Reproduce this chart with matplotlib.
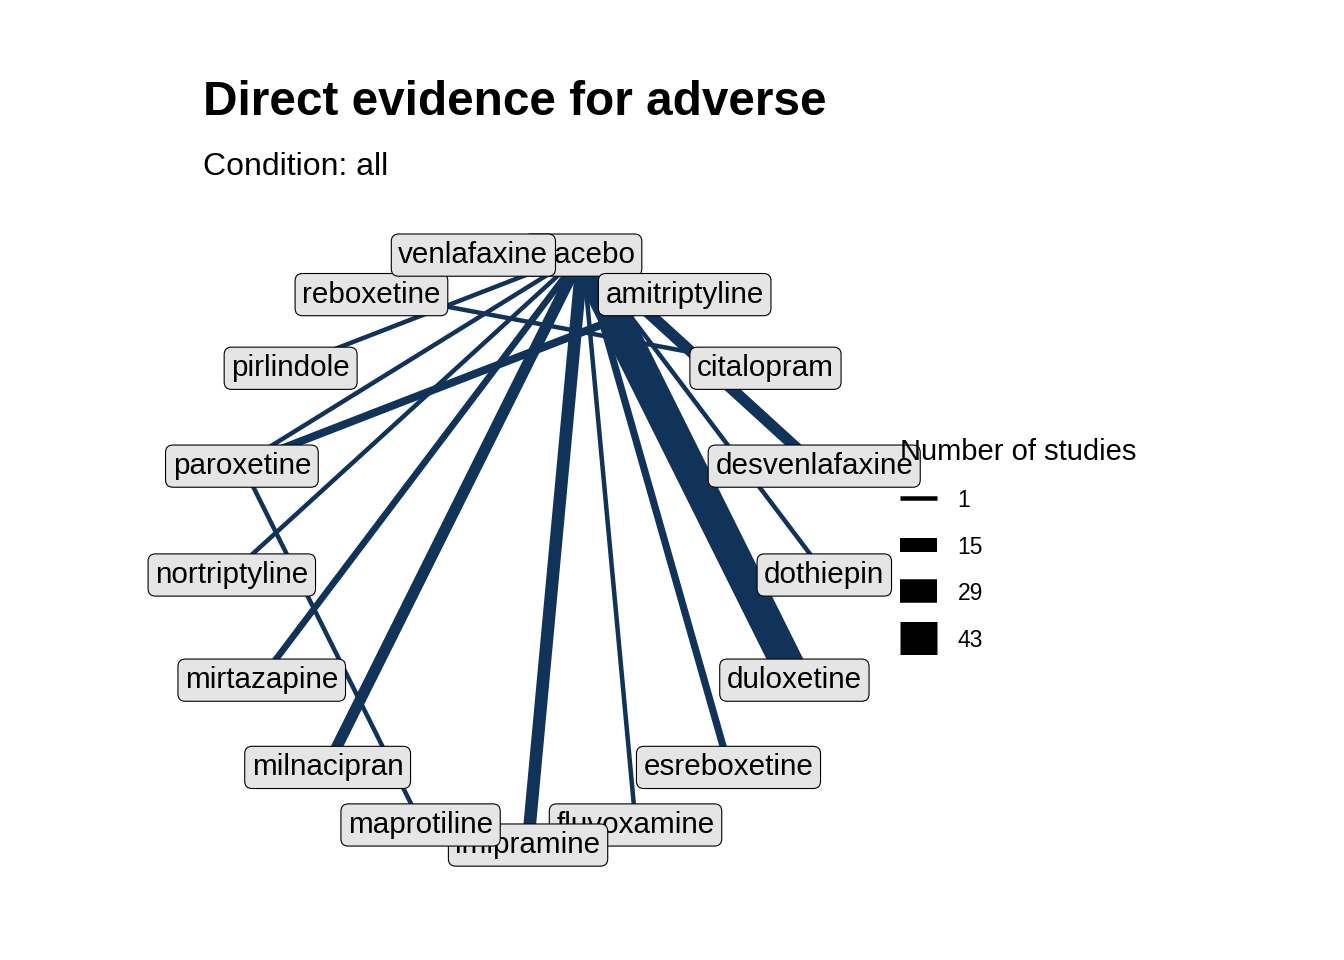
import numpy as np
import matplotlib
matplotlib.use("Agg")
import matplotlib.pyplot as plt
import matplotlib.transforms as mtransforms
from matplotlib.lines import Line2D

plt.rcParams["font.family"] = ["Liberation Sans", "DejaVu Sans"]

# ── Data ────────────────────────────────────────────────────────────────────
treatments = ["placebo", "amitriptyline", "citalopram", "desvenlafaxine",
              "dothiepin", "duloxetine", "esreboxetine", "fluvoxamine",
              "imipramine", "maprotiline", "milnacipran", "mirtazapine",
              "nortriptyline", "paroxetine", "pirlindole", "reboxetine",
              "venlafaxine"]

edge_from = ["placebo", "placebo", "placebo", "placebo", "placebo", "placebo",
             "placebo", "placebo", "placebo", "placebo", "placebo",
             "paroxetine", "paroxetine", "reboxetine"]
edge_to = ["duloxetine", "imipramine", "milnacipran", "desvenlafaxine",
           "esreboxetine", "mirtazapine", "nortriptyline", "paroxetine",
           "pirlindole", "fluvoxamine", "dothiepin",
           "amitriptyline", "maprotiline", "citalopram"]
n_studies = [43, 13, 11, 11, 5, 4, 1, 1, 1, 1, 1, 6, 1, 1]

legend_breaks = [1, 15, 29, 43]

EDGE_COLOR = "#11335a"
LABEL_FILL = "#e5e5e5"
DPI = 100
W_MIN_PX, W_MAX_PX = 4.5, 33.0   # edge thickness for fewest / most studies


def width_pt(n):
    lo, hi = min(n_studies), max(n_studies)
    px = W_MIN_PX + (n - lo) / (hi - lo) * (W_MAX_PX - W_MIN_PX)
    return px * 72 / DPI


# circular layout: placebo first, then clockwise
k = np.arange(len(treatments))
theta = np.pi / 2 - np.pi / len(treatments) - 2 * np.pi * k / len(treatments)
pos = {t: (np.cos(a), np.sin(a)) for t, a in zip(treatments, theta)}

# ── Figure ──────────────────────────────────────────────────────────────────
fig = plt.figure(figsize=(13.44, 9.6), dpi=DPI)
ax = fig.add_axes([0.1494, 0.0909, 0.4870, 0.6818])
ax.set_xlim(-1.1, 1.1)
ax.set_ylim(-1.1, 1.1)
ax.set_aspect("equal")
ax.axis("off")

for a, b, n in zip(edge_from, edge_to, n_studies):
    (x0, y0), (x1, y1) = pos[a], pos[b]
    ax.plot([x0, x1], [y0, y1], color=EDGE_COLOR, lw=width_pt(n),
            solid_capstyle="butt", zorder=1)

# labels sit a touch below the node centre, like geom_label
label_tf = mtransforms.offset_copy(ax.transData, fig=fig, y=-1.5, units="points")
for i, t in enumerate(treatments):
    x, y = pos[t]
    ax.text(x, y, t, ha="center", va="center", fontsize=21.3, color="black",
            zorder=10 + i, transform=label_tf,
            bbox=dict(boxstyle="round,pad=0.24,rounding_size=0.25",
                      fc=LABEL_FILL, ec="black", lw=0.8))

fig.text(203 / 1344, 1 - 115 / 960, "Direct evidence for adverse",
         fontsize=34.4, fontweight="bold", va="baseline", ha="left")
fig.text(203 / 1344, 1 - 175 / 960, "Condition: all",
         fontsize=23, va="baseline", ha="left")

# legend
handles = [Line2D([], [], color="black", lw=width_pt(b), solid_capstyle="butt")
           for b in legend_breaks]
leg = fig.legend(handles, [str(b) for b in legend_breaks],
                 title="Number of studies", loc="upper left",
                 bbox_to_anchor=(900 / 1344, 1 - 438 / 960),
                 frameon=False, fontsize=16.5, title_fontsize=21,
                 handlelength=1.62, handleheight=1.0, handletextpad=0.9,
                 labelspacing=1.02, borderpad=0, borderaxespad=0,
                 alignment="left")
leg.set_zorder(50)

fig.savefig("out.png", dpi=DPI)
